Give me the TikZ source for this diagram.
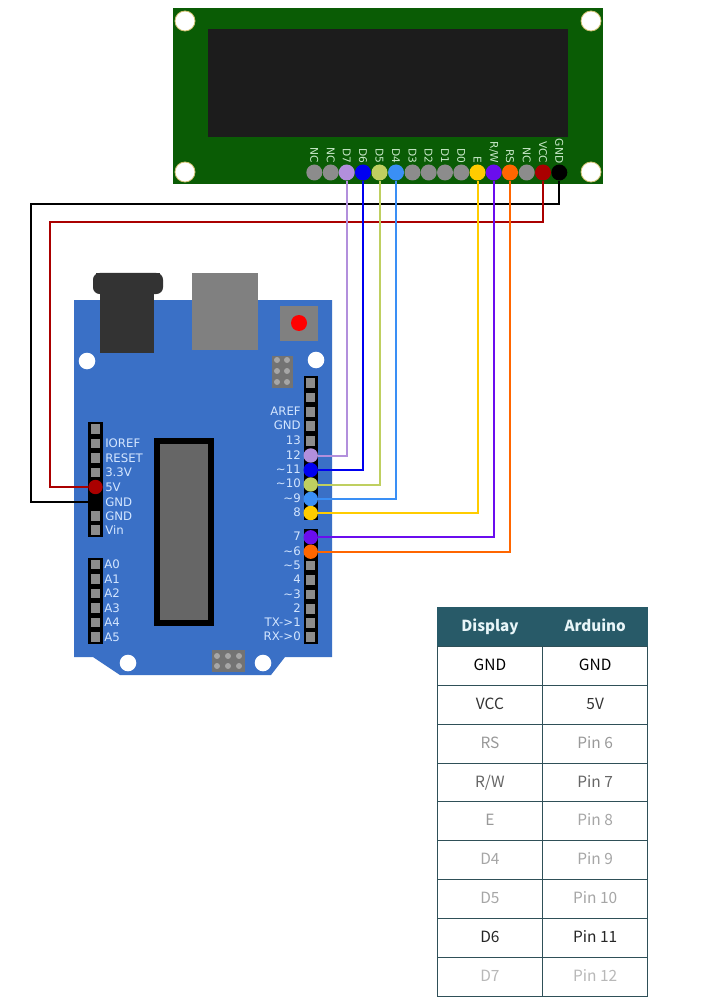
\documentclass[tikz,border=0pt]{standalone}
\usepackage{fontspec}
\setmainfont{DejaVu Sans}
\newfontfamily\tblfont{Noto Sans CJK SC}
\definecolor{pcb}{HTML}{0A5C05}
\definecolor{scr}{HTML}{1C1C1C}
\definecolor{tan}{HTML}{D0C070}
\definecolor{lcdtxt}{HTML}{C8E8C8}
\definecolor{nc}{HTML}{8C8C8C}
\definecolor{wlil}{HTML}{B28FDC}
\definecolor{wblu}{HTML}{0000F0}
\definecolor{wolv}{HTML}{BFCF60}
\definecolor{wsky}{HTML}{3A8FF5}
\definecolor{wyel}{HTML}{FFCC00}
\definecolor{wvio}{HTML}{6A0DEE}
\definecolor{wora}{HTML}{FF6600}
\definecolor{wred}{HTML}{AA0000}
\definecolor{ardu}{HTML}{3A70C6}
\definecolor{ardtxt}{HTML}{D4E6FF}
\definecolor{tealh}{HTML}{285A68}
\definecolor{teall}{HTML}{2F5058}
\definecolor{headtxt}{HTML}{E8F5F8}
\newcommand{\tld}{\char`\~}
\tikzset{
  lcdpin/.style={circle,inner sep=0pt,minimum size=12pt,fill=#1},
  ardpin/.style={circle,inner sep=0pt,minimum size=10.8pt,fill=#1},
  sqpin/.style={rectangle,inner sep=0pt,minimum size=7pt,fill=nc},
  ardl/.style={anchor=west,inner sep=0pt,text=ardtxt,font=\fontsize{8.8}{10}\selectfont},
  ardr/.style={anchor=east,inner sep=0pt,text=ardtxt,yshift=.6pt,font=\fontsize{8.8}{10}\selectfont},
  wire/.style={line width=1.5pt,draw=#1},
  hdr/.style={fill=black},
  hole/.style={fill=white},
  cell/.style={draw=teall,line width=.8pt,fill=white,minimum width=79.1pt,minimum height=29.25pt,inner sep=0pt,text height=8.6pt,text depth=2pt,text=#1,font=\tblfont\fontsize{11.6}{14}\selectfont},
  headcell/.style={fill=tealh,minimum width=79.1pt,minimum height=29.25pt,inner sep=0pt,text height=8.6pt,text depth=2pt,text=headtxt,font=\tblfont\bfseries\fontsize{11.4}{14}\selectfont}
}
\begin{document}
\begin{tikzpicture}[x=.75pt,y=-.75pt]
\useasboundingbox (0,0) rectangle (706,1005);
\fill[white] (0,0) rectangle (706,1005);
% LCD
\fill[pcb] (173,8) rectangle (603,184);
\fill[scr] (208,29) rectangle (568,137);
\foreach \x/\y in {185/21,591/21,185/172,591/172}
  \filldraw[fill=white,draw=tan,line width=.6pt] (\x,\y) circle[radius=10];
\foreach \n/\x/\c/\t in {a/314.3/nc/NC,b/330.7/nc/NC,d7/346.7/wlil/D7,d6/363/wblu/D6,d5/379.5/wolv/D5,d4/396/wsky/D4,d3/412.5/nc/D3,d2/428.7/nc/D2,d1/445/nc/D1,d0/461.3/nc/D0,e/477.5/wyel/E,rw/493.7/wvio/{R/W},rs/510/wora/RS,c/526.7/nc/NC,vcc/543/wred/VCC,gnd/559.3/black/GND}{
  \node[lcdpin=\c] (l\n) at (\x,172.5) {};
  \node[rotate=-90,anchor=east,inner sep=0pt,text=lcdtxt,font=\fontsize{8}{9}\selectfont] (t\n) at (\x,163.5) {\t};
}
% Arduino board
\fill[ardu] (74,300) -- (332,300) -- (332,657) -- (285,657) -- (271,675) -- (120,675) -- (93,657) -- (74,657) -- cycle;
% power jack
\fill[black!80] (100,290) rectangle (154,353);
\fill[black!80,rounded corners=5pt] (93,273) -- (93,294) -- (163,294) -- (163,273) -- cycle;
\fill[black!80] (96,273) rectangle (160,280);
% usb
\fill[black!50] (192,273) rectangle (258,350);
% reset
\fill[black!50] (280,306) rectangle (318,341);
\fill[red] (299,323) circle[radius=8];
% mounting holes
\foreach \x/\y in {87/361,316/360,128/663,263/663}
  \fill[hole] (\x,\y) circle[radius=8.3];
% icsp
\fill[black!55] (272,356) rectangle (293,388);
\foreach \x in {277,287} \foreach \y in {360,371,382}
  \fill[black!35] (\x,\y) circle[radius=3];
\fill[black!55] (212,650) rectangle (245,672);
\foreach \x in {217,228,239} \foreach \y in {656,666}
  \fill[black!35] (\x,\y) circle[radius=3];
% chip
\fill[black] (154,438) rectangle (214,626);
\fill[black!60] (160,444) rectangle (208,620);
% headers
\fill[hdr] (88,422) rectangle (103,537);
\fill[hdr] (88,558) rectangle (103,644);
\fill[hdr] (304,376) rectangle (318,520);
\fill[hdr] (304,529) rectangle (318,644);
% left power pins
\foreach \n/\y in {nc/429,ioref/443.7,reset/458,tv/472.5,g2/516,vin/530}
  \node[sqpin] (p\n) at (95.5,\y) {};
\node[ardl] (lioref) at (105,443.5) {IOREF};
\node[ardl] (lreset) at (105,458) {RESET};
\node[ardl] (l33) at (105,472.5) {3.3V};
\node[ardl] (l5v) at (105,487) {5V};
\node[ardl] (lgnd1) at (105,502) {GND};
\node[ardl] (lgnd2) at (105,516) {GND};
\node[ardl] (lvin) at (105,530) {Vin};
\node[ardpin=wred] (a5v) at (95.5,487) {};
\node[ardpin=black] (agnd) at (95.5,502) {};
% analog
\foreach \i/\y in {0/564.7,1/579,2/593.5,3/608,4/622.7,5/637}{
  \node[sqpin] (pa\i) at (95.5,\y) {};
  \node[ardl] (la\i) at (104,\y) {A\i};
}
% right header
\foreach \n/\y/\t in {x1/383/,x2/397.5/,aref/412/AREF,rgnd/426/GND,d13/441/13}{
  \node[sqpin] (p\n) at (310.7,\y) {};
  \node[ardr] (r\n) at (301,\y) {\t};
}
\foreach \n/\y/\c/\t in {12/455.5/wlil/12,11/470/wblu/\tld 11,10/484.5/wolv/\tld 10,9/499/wsky/\tld 9,8/513/wyel/8,7/537.3/wvio/7,6/551.7/wora/\tld 6}{
  \node[ardpin=\c] (a\n) at (310.7,\y) {};
  \node[ardr] (r\n) at (301,\y) {\t};
}
\foreach \n/\y/\t in {5/565.7/\tld 5,4/580/4,3/594.7/\tld 3,2/609/2,1/623/TX->1,0/637/RX->0}{
  \node[sqpin] (a\n) at (310.7,\y) {};
  \node[ardr] (r\n) at (301,\y) {\t};
}
% wires
\coordinate (bk) at (31,204);
\coordinate (rd) at (49.5,222.5);
\draw[wire=black] (lgnd.south) |- (bk) |- (agnd.west);
\draw[wire=wred] (lvcc.south) |- (rd) |- (a5v.west);
\draw[wire=wlil] (a12.east) -| (ld7.south);
\draw[wire=wblu] (a11.east) -| (ld6.south);
\draw[wire=wolv] (a10.east) -| (ld5.south);
\draw[wire=wsky] (a9.east) -| (ld4.south);
\draw[wire=wyel] (a8.east) -| (le.south);
\draw[wire=wvio] (a7.east) -| (lrw.south);
\draw[wire=wora] (a6.east) -| (lrs.south);
% table
\node[headcell] (hd) at (489.9,626.8) {Display};
\node[headcell] (ha) at (595.2,626.8) {Arduino};
\foreach \i/\y/\l/\r/\cl/\cr in {1/665.8/GND/GND/black/black,2/704.8/VCC/5V/black!80/black!80,3/743.8/RS/Pin 6/black!40/black!40,4/782.7/{R/W}/Pin 7/black!60/black!60,5/821.4/E/Pin 8/black!40/black!35,6/860/D4/Pin 9/black!35/black!35,7/899/D5/Pin 10/black!35/black!35,8/937.8/D6/Pin 11/black!85/black!85,9/976.8/D7/Pin 12/black!28/black!28}{
  \node[cell=\cl] (cl\i) at (489.9,\y) {\l};
  \node[cell=\cr] (cr\i) at (595.2,\y) {\r};
}
\end{tikzpicture}
\end{document}
